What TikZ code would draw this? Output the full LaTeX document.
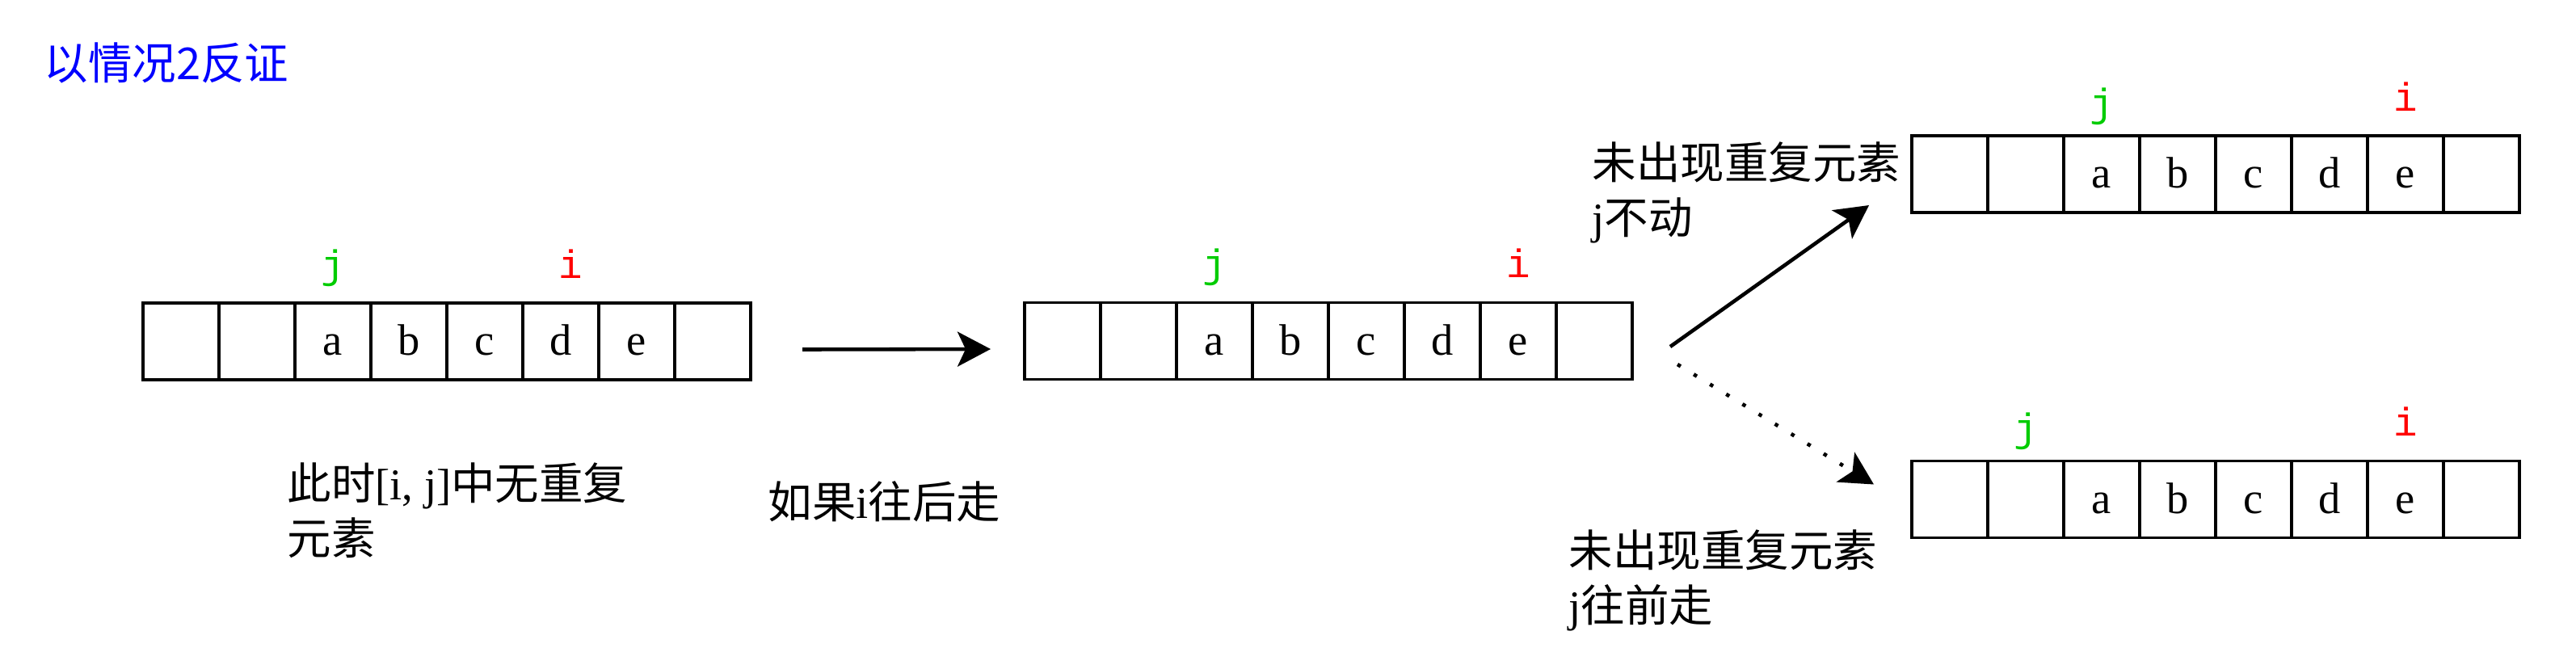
\documentclass[tikz,border=0pt]{standalone}
\usepackage{fontspec}
\setmainfont{Liberation Serif}
\newfontfamily\cjk{Noto Sans CJK SC}
\newfontfamily\mono{Liberation Mono}
\usepackage{tikz}
\usetikzlibrary{positioning}
\usetikzlibrary{arrows.meta}
\definecolor{jgreen}{RGB}{0,204,0}

\begin{document}
\begin{tikzpicture}[
	cell/.style={draw, line width=1.1pt, minimum width=0.94cm, minimum height=0.95cm, inner sep=0pt, outer sep=0pt, text height=9.9pt, text depth=0pt, font=\fontsize{15.5pt}{19pt}\selectfont},
	ptr/.style={inner sep=0pt, text height=10.5pt, text depth=3.4pt, font=\mono\fontsize{14pt}{16pt}\selectfont},
	jmark/.style={ptr, text=jgreen},
	imark/.style={ptr, text=red},
	note/.style={anchor=north west, inner sep=0pt, align=left, font=\cjk\fontsize{15.5pt}{19.3pt}\selectfont},
	move/.style={line width=1.3pt, -{Stealth[length=0.41cm, width=0.43cm, inset=0.1cm]}}
	]
			\useasboundingbox (0,0) rectangle (31.88,-8.22);
			\node at (0.54,-0.52) (title) [note, text=blue] {以情况2反证};
			% the four windows
			\foreach \t [count=\k] in {{},{},a,b,c,d,e,{}} \node at ({1.77+0.94*\k-0.47},-4.225) (A\k) [cell] {\t};
			\foreach \t [count=\k] in {{},{},a,b,c,d,e,{}} \node at ({12.68+0.94*\k-0.47},-4.22) (B\k) [cell] {\t};
			\foreach \t [count=\k] in {{},{},a,b,c,d,e,{}} \node at ({23.66+0.94*\k-0.47},-2.155) (C\k) [cell] {\t};
			\foreach \t [count=\k] in {{},{},a,b,c,d,e,{}} \node at ({23.66+0.94*\k-0.47},-6.18) (D\k) [cell] {\t};
			\node [above=0.18cm of A3.north, jmark] (jA) {j};
			\node [above=0.18cm of A6.north, xshift=0.12cm, imark] (iA) {i};
			\node [above=0.18cm of B3.north, jmark] (jB) {j};
			\node [above=0.18cm of B7.north, imark] (iB) {i};
			\node [above=0.11cm of C3.north, jmark] (jC) {j};
			\node [above=0.18cm of C7.north, imark] (iC) {i};
			\node [above=0.11cm of D2.north, jmark] (jD) {j};
			\node [above=0.18cm of D7.north, imark] (iD) {i};
			% notes
			\node at (3.55,-5.72) (noteA) [note] {此时\textrm{[i, j]}中无重复\\元素};
			\node at (9.50,-5.95) (noteB) [note] {如果\textrm{i}往后走};
			\node at (19.70,-1.75) (noteC) [note] {未出现重复元素\\\textrm{j}不动};
			\node at (19.41,-6.55) (noteD) [note] {未出现重复元素\\\textrm{j}往前走};
			% moves
			\draw [move] ([xshift=0.64cm,yshift=-0.1cm]A8.east) -- ([xshift=-0.42cm,yshift=-0.1cm]B1.west);
			\draw [move] ([xshift=0.47cm,yshift=-0.07cm]B8.east) -- ([xshift=-0.53cm,yshift=0.09cm]C1.south west);
			\draw [move, dash pattern=on 1.3pt off 5.4pt] ([xshift=0.56cm,yshift=-0.29cm]B8.east) -- ([xshift=-0.47cm,yshift=-0.29cm]D1.north west);
\end{tikzpicture}
\end{document}
